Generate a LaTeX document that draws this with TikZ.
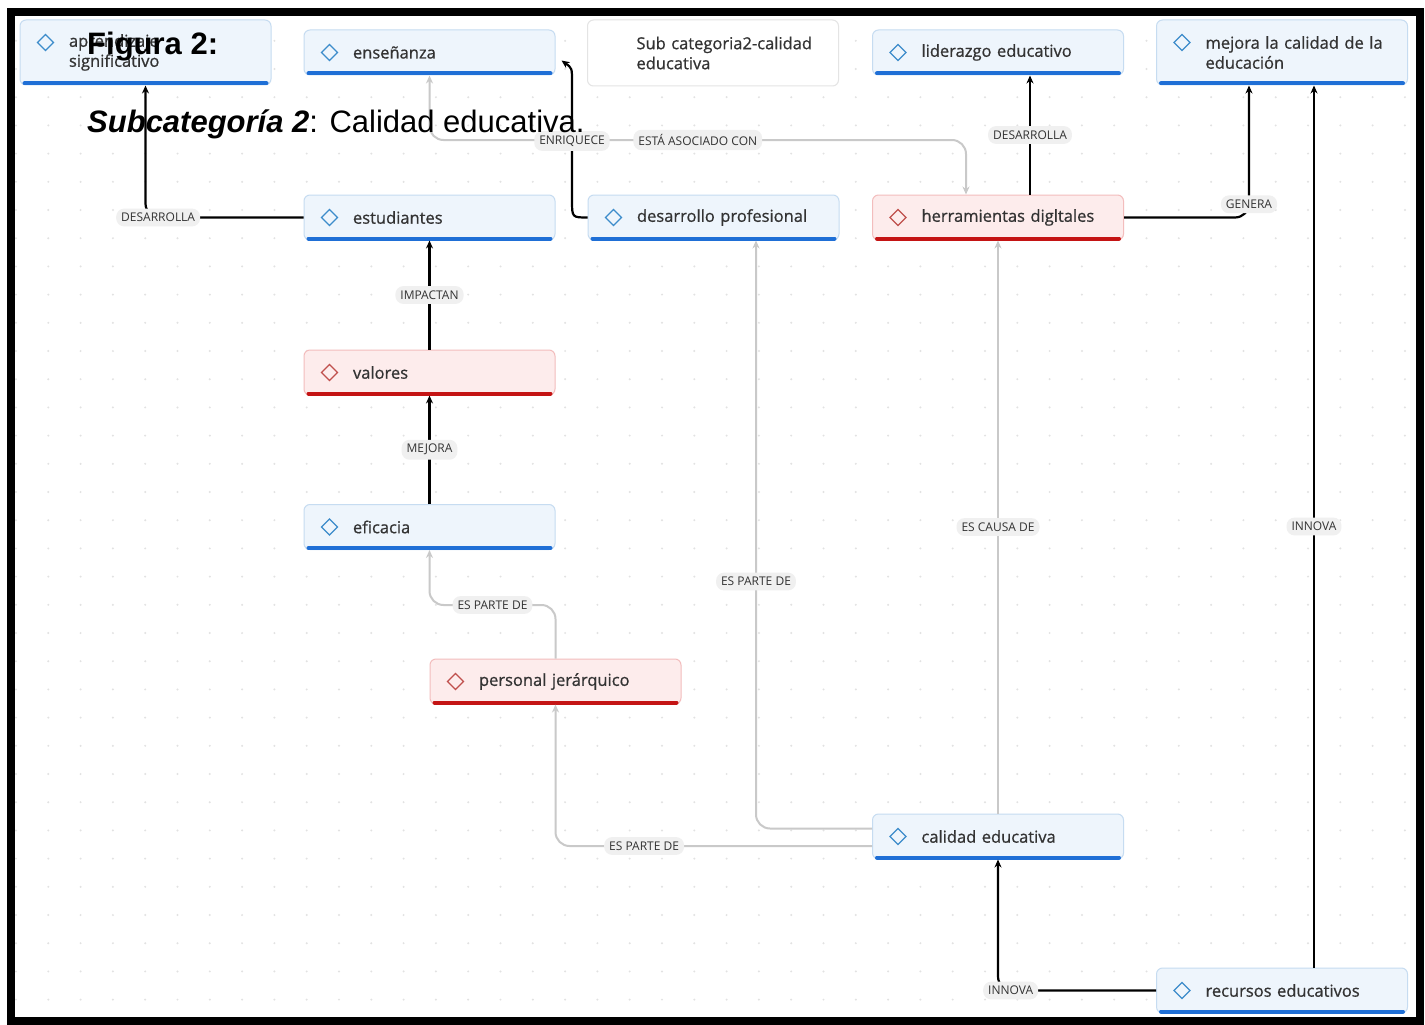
\documentclass[tikz,border=0pt]{standalone}
\usepackage{fontspec}
\setmainfont{Open Sans}
\newfontfamily\nodefont[FakeBold=0.8]{Open Sans}
\newfontfamily\titlefont{Liberation Sans}
\usetikzlibrary{arrows.meta}

\definecolor{boxblue}{HTML}{EEF5FC}
\definecolor{lineblue}{HTML}{C6DCF1}
\definecolor{barblue}{HTML}{1F6FD6}
\definecolor{icoblue}{HTML}{3D8CCB}
\definecolor{boxred}{HTML}{FDECEC}
\definecolor{linered}{HTML}{F3BDBD}
\definecolor{barred}{HTML}{C41414}
\definecolor{icored}{HTML}{C0504D}
\definecolor{linegray}{HTML}{E4E4E4}
\definecolor{lblgray}{HTML}{F0F0F0}
\definecolor{linkgray}{HTML}{C9C9C9}
\definecolor{textgray}{HTML}{333333}
\definecolor{dotgray}{HTML}{E2E2E2}

\begin{document}
\begin{tikzpicture}[x=1pt,y=-1pt,>={Stealth[length=8pt,width=7pt]},
    concept/.style={rectangle, rounded corners=6pt, draw=lineblue, fill=boxblue, line width=1pt,
        minimum height=45pt, text width=231pt, inner xsep=10pt, align=left,
        execute at begin node={\leftskip=39pt\relax}, font=\nodefont\fontsize{16.5}{20}\selectfont, text=textgray},
    hot/.style={concept, draw=linered, fill=boxred},
    plain/.style={concept, draw=linegray, fill=white},
    lbl/.style={fill=lblgray, rounded corners=8pt, inner xsep=5pt, inner ysep=4.5pt, font=\fontsize{12}{13}\selectfont, text=textgray},
    link/.style={->, line width=2.2pt, rounded corners=14pt},
    soft/.style={link, draw=linkgray, line width=2pt},
    barB/.style={line width=4pt, draw=barblue, line cap=round},
    barR/.style={line width=4pt, draw=barred, line cap=round},
    icoB/.style={draw=icoblue, line width=1.3pt},
    icoR/.style={draw=icored, line width=1.3pt},
]
    \fill[white] (0,0) rectangle (1425,1024);
    % dot grid
    \foreach \i in {0,...,43}
        \foreach \j in {1,...,35}
            \fill[dotgray] (16+32.3*\i, 12.6+28.2*\j) circle (1.1pt);

    % concepts
    \node [concept, minimum height=65pt](apr) at (145.5,52.5) {aprendizaje\\significativo};
    \node [concept](ens) at (429.5,52.5) {enseñanza};
    \node [plain, minimum height=66pt](sub) at (713,53) {Sub categoria2-calidad\\educativa};
    \node [concept](lid) at (998,52.5) {liderazgo educativo};
    \node [concept, minimum height=65pt](mej) at (1282,52.5) {mejora la calidad de la\\educación};
    \node [concept](est) at (429.5,217.5) {estudiantes};
    \node [concept](dp) at (713.5,217.5) {desarrollo profesional};
    \node [hot](herr) at (998,217.5) {herramientas digltales};
    \node [hot](val) at (429.5,372.5) {valores};
    \node [concept](efi) at (429.5,527) {eficacia};
    \node [hot](pers) at (555.5,681.5) {personal jerárquico};
    \node [concept](cal) at (998,836.5) {calidad educativa};
    \node [concept](rec) at (1282,990.5) {recursos educativos};

    % bars and icons
    \foreach \n in {apr,ens,lid,mej,est,dp,efi,cal,rec}{
        \draw[barB] ([xshift=5pt,yshift=2pt]\n.south west) -- ([xshift=-5pt,yshift=2pt]\n.south east);
        \draw[icoB] ([xshift=26pt,yshift=-23pt]\n.north west) ++(-8,0) -- ++(8,-8) -- ++(8,8) -- ++(-8,8) -- cycle;
    }
    \foreach \n in {herr,val,pers}{
        \draw[barR] ([xshift=5pt,yshift=2pt]\n.south west) -- ([xshift=-5pt,yshift=2pt]\n.south east);
        \draw[icoR] ([xshift=26pt,yshift=-23pt]\n.north west) ++(-8,0) -- ++(8,-8) -- ++(8,8) -- ++(-8,8) -- cycle;
    }

    % grey links
    \draw[soft, <->] (ens.south) -- (ens.south |- 0,140)
        -- node[lbl]{ESTÁ ASOCIADO CON} ([xshift=-32pt]herr.north |- 0,140) -- ([xshift=-32pt]herr.north);
    \draw[soft] (cal.north) -- node[lbl]{ES CAUSA DE} (herr.south);
    \draw[soft] ([yshift=8pt]cal.west) -| node[lbl, pos=0.71]{ES PARTE DE} ([xshift=42.5pt]dp.south);
    \draw[soft] ([yshift=-9.5pt]cal.west) -| node[lbl, pos=0.36]{ES PARTE DE} (pers.south);
    \draw[soft] (pers.north) -- (pers.north |- 0,605) -- node[lbl]{ES PARTE DE} (efi.south |- 0,605) -- (efi.south);

    % black links
    \draw[link] (est.west) -| node[lbl, pos=0.46]{DESARROLLA} (apr.south);
    \draw[link, rounded corners=0pt] (dp.west) .. controls (572,217.5) .. (572,200)
        -- node[lbl]{ENRIQUECE} (572,82) .. controls (572,68) .. ([xshift=6pt,yshift=-8pt]ens.east);
    \draw[link] ([xshift=32pt]herr.north) -- node[lbl]{DESARROLLA} ([xshift=32pt]lid.south);
    \draw[link] (herr.east) -| node[lbl, pos=0.55]{GENERA} ([xshift=-33pt]mej.south);
    \draw[link] ([xshift=32pt]rec.north) -- node[lbl]{INNOVA} ([xshift=32pt]mej.south);
    \draw[link] (rec.west) -| node[lbl, pos=0.46]{INNOVA} (cal.south);
    \draw[link] (efi.north) -- node[lbl]{MEJORA} (val.south);
    \draw[link] (val.north) -- node[lbl]{IMPACTAN} (est.south);

    % caption
    \node [anchor=base west, inner sep=0pt, font=\titlefont\bfseries\fontsize{31}{36}\selectfont](fig) at (87,55) {Figura 2:};
    \node [anchor=base west, inner sep=0pt, font=\titlefont\fontsize{31}{36}\selectfont](capt) at (87,132) {\textbf{\textit{Subcategoría 2}}: Calidad educativa.};

    % frame
    \draw[line width=8pt] (11,12) rectangle (1420,1021);
    \useasboundingbox (0,0) rectangle (1425,1024);
\end{tikzpicture}
\end{document}
